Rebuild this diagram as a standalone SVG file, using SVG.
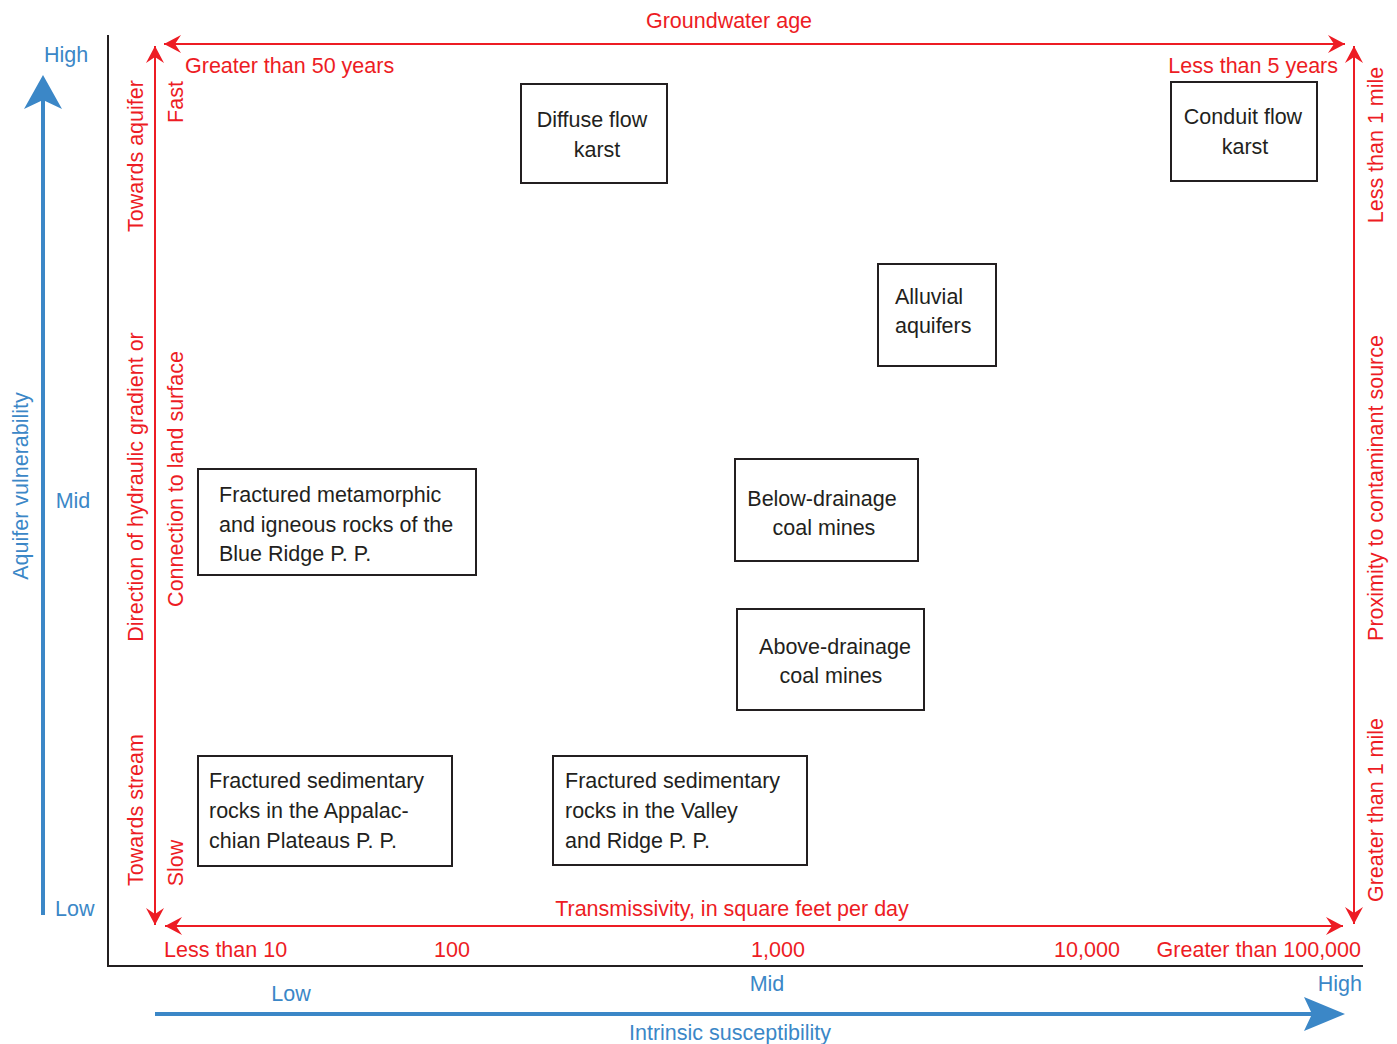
<svg xmlns="http://www.w3.org/2000/svg" width="1397" height="1044" viewBox="0 0 1397 1044">
<style>
text{font-family:"Liberation Sans",Arial,sans-serif;font-size:21.5px}
.r{fill:#ed1c24}
.b{fill:#3b87c7}
.k{fill:#231f20}
.box{fill:#fff;stroke:#231f20;stroke-width:2}
.rl{stroke:#ed1c24;stroke-width:2;fill:none}
.c{text-anchor:middle}
.e{text-anchor:end}
</style>
<defs>
<marker id="ra" markerUnits="userSpaceOnUse" markerWidth="20" markerHeight="20" viewBox="-18 -10 20 20" refX="0" refY="0" orient="auto-start-reverse">
<path d="M0,0 L-17,-9 L-11,0 L-17,9 Z" fill="#ed1c24"/>
</marker>
</defs>
<rect width="1397" height="1044" fill="#fff"/>
<g id="connectors">
<path d="M108,35 V966 H1363" fill="none" stroke="#231f20" stroke-width="2"/>
<line class="rl" x1="164" y1="44" x2="1345" y2="44" marker-start="url(#ra)" marker-end="url(#ra)"/>
<line class="rl" x1="155" y1="46" x2="155" y2="925" marker-start="url(#ra)" marker-end="url(#ra)"/>
<line class="rl" x1="165" y1="926" x2="1343" y2="926" marker-start="url(#ra)" marker-end="url(#ra)"/>
<line class="rl" x1="1354" y1="46" x2="1354" y2="924" marker-start="url(#ra)" marker-end="url(#ra)"/>
<line x1="43" y1="915" x2="43" y2="100" stroke="#3b87c7" stroke-width="4"/>
<path d="M43,75 L62,109 L43,100 L24,109 Z" fill="#3b87c7"/>
<line x1="155" y1="1014" x2="1315" y2="1014" stroke="#3b87c7" stroke-width="4"/>
<path d="M1345,1014 L1304,1031 L1312,1014 L1304,997 Z" fill="#3b87c7"/>
</g>
<g id="axis-labels">
<text class="r c" x="729" y="28">Groundwater age</text>
<text class="r" x="185" y="73">Greater than 50 years</text>
<text class="r e" x="1338" y="73">Less than 5 years</text>
<text class="r c" x="732" y="916">Transmissivity, in square feet per day</text>
<text class="r" x="164" y="957">Less than 10</text>
<text class="r c" x="452" y="957">100</text>
<text class="r c" x="778" y="957">1,000</text>
<text class="r c" x="1087" y="957">10,000</text>
<text class="r e" x="1361" y="957">Greater than 100,000</text>
<text class="b c" x="291" y="1001">Low</text>
<text class="b c" x="767" y="991">Mid</text>
<text class="b e" x="1362" y="991">High</text>
<text class="b c" x="730" y="1040">Intrinsic susceptibility</text>
<text class="b c" x="66" y="62">High</text>
<text class="b c" x="73" y="508">Mid</text>
<text class="b" x="55" y="916">Low</text>
<text class="b c" transform="translate(28,486) rotate(-90)">Aquifer vulnerability</text>
<text class="r c" transform="translate(143,156) rotate(-90)">Towards aquifer</text>
<text class="r c" transform="translate(143,487) rotate(-90)">Direction of hydraulic gradient or</text>
<text class="r c" transform="translate(143,810) rotate(-90)">Towards stream</text>
<text class="r c" transform="translate(183,102) rotate(-90)">Fast</text>
<text class="r c" transform="translate(183,479) rotate(-90)">Connection to land surface</text>
<text class="r c" transform="translate(183,863) rotate(-90)">Slow</text>
<text class="r c" transform="translate(1383,145) rotate(-90)">Less than 1 mile</text>
<text class="r c" transform="translate(1383,488) rotate(-90)">Proximity to contaminant source</text>
<text class="r c" transform="translate(1383,810) rotate(-90)">Greater than 1 mile</text>
</g>
<g id="diffuse-flow-karst">
<rect class="box" x="521" y="84" width="146" height="99"/>
<text class="k c" x="592" y="127">Diffuse flow</text>
<text class="k c" x="597" y="157">karst</text>
</g>
<g id="conduit-flow-karst">
<rect class="box" x="1171" y="82" width="146" height="99"/>
<text class="k c" x="1243" y="124">Conduit flow</text>
<text class="k c" x="1245" y="154">karst</text>
</g>
<g id="alluvial-aquifers">
<rect class="box" x="878" y="264" width="118" height="102"/>
<text class="k" x="895" y="304">Alluvial</text>
<text class="k" x="895" y="333">aquifers</text>
</g>
<g id="below-drainage">
<rect class="box" x="735" y="459" width="183" height="102"/>
<text class="k c" x="822" y="506">Below-drainage</text>
<text class="k c" x="824" y="535">coal mines</text>
</g>
<g id="above-drainage">
<rect class="box" x="737" y="609" width="187" height="101"/>
<text class="k c" x="835" y="654">Above-drainage</text>
<text class="k c" x="831" y="683">coal mines</text>
</g>
<g id="blue-ridge">
<rect class="box" x="198" y="469" width="278" height="106"/>
<text class="k" x="219" y="502">Fractured metamorphic</text>
<text class="k" x="219" y="532">and igneous rocks of the</text>
<text class="k" x="219" y="561">Blue Ridge P. P.</text>
</g>
<g id="appalachian-plateaus">
<rect class="box" x="198" y="756" width="254" height="110"/>
<text class="k" x="209" y="788">Fractured sedimentary</text>
<text class="k" x="209" y="818">rocks in the Appalac-</text>
<text class="k" x="209" y="848">chian Plateaus P. P.</text>
</g>
<g id="valley-ridge">
<rect class="box" x="553" y="756" width="254" height="109"/>
<text class="k" x="565" y="788">Fractured sedimentary</text>
<text class="k" x="565" y="818">rocks in the Valley</text>
<text class="k" x="565" y="848">and Ridge P. P.</text>
</g>
</svg>
